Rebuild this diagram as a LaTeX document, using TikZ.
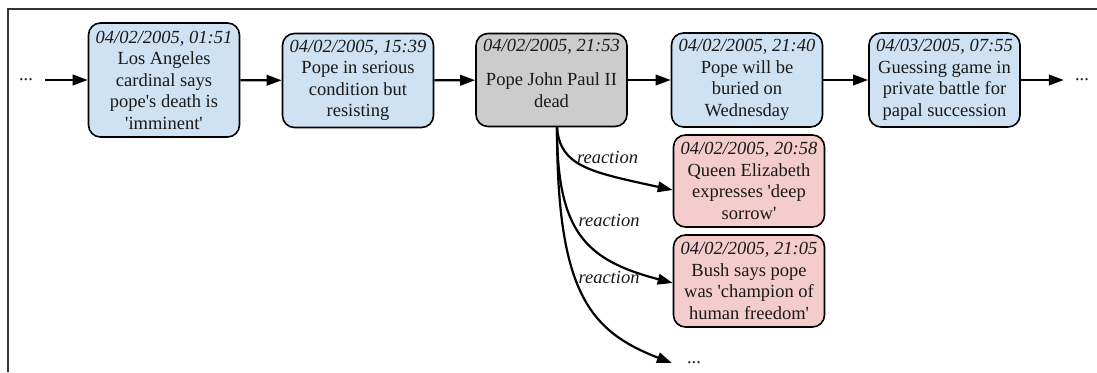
\documentclass[tikz,border=0pt]{standalone}
\usepackage{fontspec}
\setmainfont{Liberation Serif}
\usetikzlibrary{arrows.meta,calc}
\definecolor{evblue}{HTML}{CFE2F3}
\definecolor{evgray}{HTML}{CCCCCC}
\definecolor{evpink}{HTML}{F4CCCC}
\newcommand{\qs}{\textquotesingle}
\begin{document}
\begin{tikzpicture}[x=1pt,y=-1pt,
  event/.style={draw=black, line width=1.6pt, rounded corners=12pt, align=center,
    minimum width=151pt, minimum height=94pt, inner sep=2pt, text=black!90,
    font=\fontsize{18.5}{21.5}\selectfont},
  mainev/.style={event, fill=evblue},
  deadev/.style={event, fill=evgray},
  reactev/.style={event, fill=evpink},
  dotsnode/.style={inner ysep=2pt, font=\fontsize{18.5}{21.5}\selectfont, text=black!90},
  flow/.style={line width=2.2pt, -{Triangle[length=15pt,width=10.5pt]}},
  edgelabel/.style={anchor=base, font=\fontsize{18.5}{21.5}\selectfont\itshape, text=black!90},
  frame/.style={line width=1.5pt, draw=black!80}
]
\useasboundingbox (0,0) rectangle (1097,372);
\draw[frame] (1097,9) -- (8,9) -- (8,372);

\node[mainev, minimum height=114pt] (n1) at (164,80)
  {\textit{04/02/2005, 01:51}\\Los Angeles\\cardinal says\\pope\qs s death is\\\qs imminent\qs};
\node[mainev] (n2) at (358,80.5)
  {\textit{04/02/2005, 15:39}\\Pope in serious\\condition but\\resisting};
\node[deadev, minimum height=93pt] (n3) at (551.5,80)
  {\textit{04/02/2005, 21:53}\\[12.5pt]Pope John Paul II\\dead\rule[-13pt]{0pt}{13pt}};
\node[mainev] (n4) at (747,80)
  {\textit{04/02/2005, 21:40}\\Pope will be\\buried on\\Wednesday};
\node[mainev] (n5) at (944.5,80)
  {\textit{04/03/2005, 07:55}\\Guessing game in\\private battle for\\papal succession};
\node[reactev, minimum height=92pt] (p1) at (749,181)
  {\textit{04/02/2005, 20:58}\\Queen Elizabeth\\expresses \qs deep\\sorrow\qs};
\node[reactev, minimum height=92pt] (p2) at (749,281)
  {\textit{04/02/2005, 21:05}\\Bush says pope\\was \qs champion of\\human freedom\qs};

\node[dotsnode, inner xsep=12pt] (ld) at (26,80) {...};
\node[dotsnode, inner xsep=11pt] (rd) at (1082,80) {...};
\node[dotsnode, inner xsep=15pt] (bd) at (694,363) {...};

\draw[flow] (ld) -- (n1);
\draw[flow] (n1) -- (n2);
\draw[flow] (n2) -- (n3);
\draw[flow] (n3) -- (n4);
\draw[flow] (n4) -- (n5);
\draw[flow] (n5) -- (rd);

\coordinate (s) at ($(n3.south)+(5.5,0)$);
\draw[flow] (s) .. controls +(3,39) and +(-83,-18) .. ($(p1.west)+(0,9)$);
\draw[flow] (s) .. controls +(0,104) and +(-88,-23) .. ($(p2.west)+(0,2)$);
\draw[flow] (s) .. controls +(0,164) and +(-83,-32) .. (bd.west);

\node[edgelabel] (r1) at (607.5,163) {reaction};
\node[edgelabel] (r2) at (609,226) {reaction};
\node[edgelabel] (r3) at (609,283) {reaction};
\end{tikzpicture}
\end{document}
